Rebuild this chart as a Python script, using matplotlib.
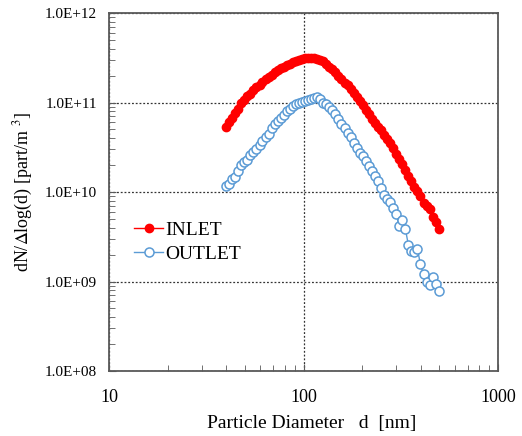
import matplotlib
matplotlib.use("Agg")
import matplotlib.pyplot as plt
import numpy as np

plt.rcParams['font.family'] = ['Liberation Serif', 'DejaVu Serif']
plt.rcParams['mathtext.fontset'] = 'stix'

diameter_nm = [40.0, 41.4, 42.9, 44.5, 46.1, 47.8, 49.6, 51.4, 53.3, 55.2, 57.3, 59.4, 61.5, 63.8,
               66.1, 68.5, 71.0, 73.7, 76.4, 79.1, 82.0, 85.1, 88.2, 91.4, 94.7, 98.2, 101.8, 105.5,
               109.4, 113.4, 117.6, 121.9, 126.3, 131.0, 135.8, 140.7, 145.9, 151.2, 156.8, 162.5,
               168.5, 174.7, 181.1, 187.7, 194.6, 201.7, 209.1, 216.7, 224.7, 232.9, 241.4, 250.3,
               259.5, 269.0, 278.8, 289.0, 299.6, 310.6, 322.0, 333.8, 346.0, 358.7, 371.8, 385.4,
               399.5, 414.2, 429.4, 445.1, 461.4, 478.3, 495.8]

inlet_log = [10.73, 10.78, 10.83, 10.88, 10.93, 10.99, 11.03, 11.07, 11.10, 11.14, 11.17, 11.20,
             11.23, 11.26, 11.28, 11.31, 11.34, 11.36, 11.38, 11.40, 11.42, 11.43, 11.45, 11.46,
             11.48, 11.49, 11.50, 11.50, 11.50, 11.50, 11.49, 11.48, 11.46, 11.43, 11.40, 11.37,
             11.34, 11.30, 11.26, 11.22, 11.19, 11.15, 11.11, 11.06, 11.02, 10.97, 10.92, 10.87,
             10.82, 10.77, 10.73, 10.69, 10.64, 10.59, 10.55, 10.49, 10.43, 10.37, 10.31, 10.25,
             10.18, 10.12, 10.06, 10.01, 9.95, 9.88, 9.84, 9.81, 9.72, 9.66, 9.59]

outlet_log = [10.07, 10.09, 10.14, 10.17, 10.24, 10.30, 10.34, 10.36, 10.41, 10.45, 10.48, 10.53,
              10.57, 10.61, 10.65, 10.71, 10.76, 10.79, 10.83, 10.86, 10.90, 10.93, 10.96, 10.98,
              10.99, 11.01, 11.02, 11.03, 11.04, 11.05, 11.06, 11.04, 11.00, 10.98, 10.95, 10.92,
              10.87, 10.82, 10.76, 10.71, 10.66, 10.61, 10.55, 10.49, 10.44, 10.40, 10.35, 10.29,
              10.24, 10.18, 10.12, 10.04, 9.97, 9.92, 9.89, 9.82, 9.75, 9.62, 9.69, 9.59,
              9.41, 9.34, 9.33, 9.36, 9.19, 9.08, 9.00, 8.96, 9.05, 8.97, 8.89]

inlet = [10 ** v for v in inlet_log]
outlet = [10 ** v for v in outlet_log]

y_ticks = [1e8, 1e9, 1e10, 1e11, 1e12]
y_tick_labels = ["1.0E+08", "1.0E+09", "1.0E+10", "1.0E+11", "1.0E+12"]
x_ticks = [10, 100, 1000]
x_tick_labels = ["10", "100", "1000"]

fig = plt.figure(figsize=(5.22, 4.36), dpi=100)
ax = fig.add_axes([109 / 522, 1 - 371 / 436, 389 / 522, 358 / 436])

ax.plot(diameter_nm, inlet, color='#FF0000', lw=1.0, marker='o', ms=6,
        markerfacecolor='#FF0000', markeredgecolor='#FF0000', label='INLET', zorder=3)
ax.plot(diameter_nm, outlet, color='#5B9BD5', lw=1.0, marker='o', ms=6.5,
        markerfacecolor='white', markeredgecolor='#5B9BD5', markeredgewidth=1.1,
        label='OUTLET', zorder=2)

ax.set_xscale('log')
ax.set_yscale('log')
ax.set_xlim(10, 1000)
ax.set_ylim(1e8, 1e12)
ax.set_xticks(x_ticks)
ax.set_xticklabels(x_tick_labels)
ax.set_yticks(y_ticks)
ax.set_yticklabels(y_tick_labels)

ax.grid(True, which='major', color='#333333', linestyle=(0, (1.5, 1.5)), linewidth=0.9)
ax.tick_params(which='both', direction='in', top=False, right=False, colors='#595959',
               labelcolor='black')
ax.tick_params(axis='y', which='major', length=5, pad=8.5, labelsize=11)
ax.tick_params(axis='x', which='major', length=5, pad=13, labelsize=13)
ax.tick_params(which='minor', length=4)
for s in ax.spines.values():
    s.set_color('#595959')
    s.set_linewidth(1.3)

ax.set_xlabel('Particle Diameter   d  [nm]', fontsize=14)
ax.xaxis.set_label_coords(0.522, -0.122)
ax.set_ylabel(r'dN/$\Delta$log(d) [part/m $^{3}$]', fontsize=13, labelpad=7)

leg = ax.legend(loc='upper left', bbox_to_anchor=(0.045, 0.44), frameon=False, fontsize=14,
                handlelength=1.5, handletextpad=0.1, labelspacing=0.35, borderaxespad=0)

fig.savefig('out.png', dpi=100)
